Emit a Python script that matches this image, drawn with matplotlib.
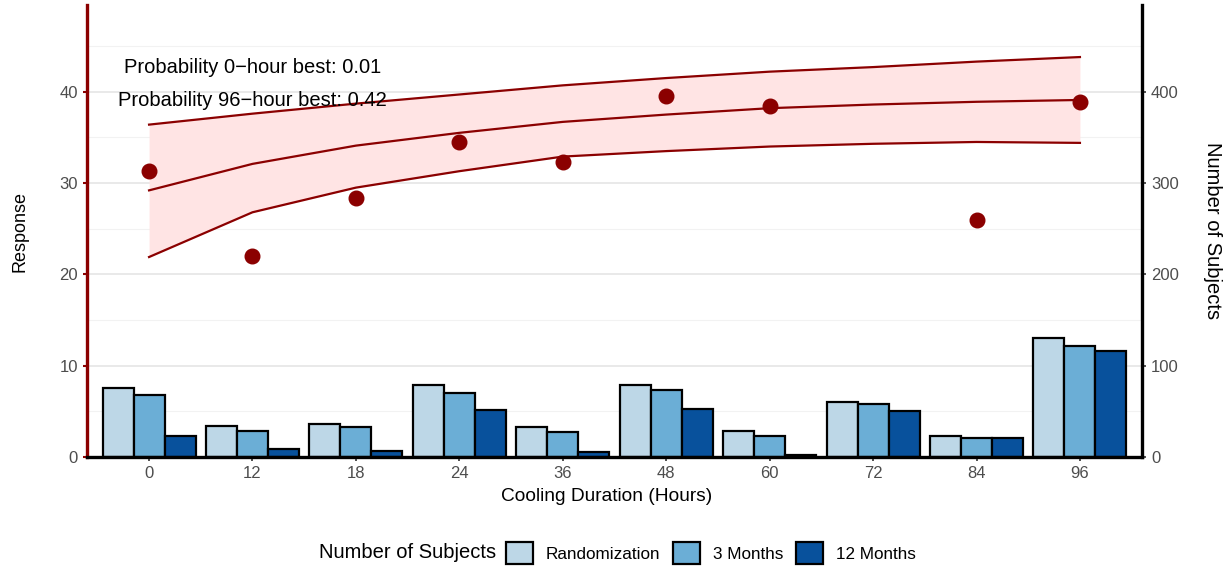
import matplotlib.pyplot as plt
import numpy as np

plt.rcParams['font.family'] = ['Liberation Sans', 'DejaVu Sans']

# dados
horas = ['0', '12', '18', '24', '36', '48', '60', '72', '84', '96']
randomizacao = [76, 34, 36, 78.5, 33, 79, 29, 60, 22.6, 130.7]
tres_meses = [68, 29, 32.5, 70, 27.7, 73, 23, 58, 20.5, 122]
doze_meses = [23, 9, 7, 51, 6, 52.6, 2, 50, 20.5, 116.5]

resposta = [31.3, 22.0, 28.4, 34.5, 32.3, 39.5, 38.4, np.nan, 25.9, 38.9]
ajuste = [29.2, 32.1, 34.1, 35.5, 36.7, 37.5, 38.2, 38.6, 38.9, 39.1]
ajuste_sup = [36.4, 37.6, 38.7, 39.7, 40.7, 41.5, 42.2, 42.7, 43.3, 43.8]
ajuste_inf = [21.9, 26.8, 29.5, 31.3, 32.9, 33.5, 34.0, 34.3, 34.5, 34.4]

grupos = ['Randomization', '3 Months', '12 Months']
cores = ['#BDD7E7', '#6BAED6', '#08519C']

fig = plt.figure(figsize=(12.29, 5.70), dpi=100)
ax = fig.add_axes([87/1229, 1 - 457/570, (1142-87)/1229, (457-5)/570])
ax2 = ax.twinx()
ax.set_zorder(ax2.get_zorder() + 1)
ax.patch.set_visible(False)

x = np.arange(len(horas))
largura = 0.3
for i, (vals, cor, nome) in enumerate(zip([randomizacao, tres_meses, doze_meses], cores, grupos)):
    ax2.bar(x + (i - 1) * largura, vals, largura, color=cor, edgecolor='black',
            linewidth=1.6, label=nome, zorder=3)

ax.fill_between(x, ajuste_inf, ajuste_sup, color='#FFE4E4', linewidth=0, zorder=1)
ax.plot(x, ajuste_sup, color='#8B0000', lw=1.6, zorder=2)
ax.plot(x, ajuste_inf, color='#8B0000', lw=1.6, zorder=2)
ax.plot(x, ajuste, color='#8B0000', lw=1.6, zorder=2)
ax.plot(x, resposta, 'o', color='#8B0000', markersize=10.5, zorder=4)

ax.text(1, 42.7, 'Probability 0\u2212hour best: 0.01', ha='center', va='center', fontsize=14.5)
ax.text(1, 39.0, 'Probability 96\u2212hour best: 0.42', ha='center', va='center', fontsize=14.5)

ax.set_xlim(-0.6, 9.6)
ax.set_ylim(0, 49.5)
ax2.set_ylim(0, 495)
ax.set_xticks(x)
ax.set_xticklabels(horas)
ax.set_yticks([0, 10, 20, 30, 40])
ax2.set_yticks([0, 100, 200, 300, 400])
ax2.set_yticks([50, 150, 250, 350, 450], minor=True)

# grade no eixo de baixo para ficar atras de tudo
ax2.grid(axis='y', which='major', color='#E5E5E5', lw=1.2, zorder=0)
ax2.grid(axis='y', which='minor', color='#F2F2F2', lw=0.8, zorder=0)
ax2.set_axisbelow(True)
ax2.tick_params(axis='y', which='minor', length=0)

for a in (ax, ax2):
    for s in a.spines.values():
        s.set_visible(False)
ax.spines['left'].set_visible(True)
ax.spines['left'].set_color('#8B0000')
ax.spines['left'].set_linewidth(2.4)
ax.spines['bottom'].set_visible(True)
ax.spines['bottom'].set_color('black')
ax.spines['bottom'].set_linewidth(2.4)
ax2.spines['right'].set_visible(True)
ax2.spines['right'].set_color('black')
ax2.spines['right'].set_linewidth(2.4)

ax.tick_params(axis='y', colors='#8B0000', labelcolor='#4D4D4D', labelsize=12, length=3, width=1.5)
ax.tick_params(axis='x', colors='#333333', labelcolor='#4D4D4D', labelsize=12, length=3, width=1.2)
ax2.tick_params(axis='y', colors='#333333', labelcolor='#4D4D4D', labelsize=12, length=3, width=1.2)

ax.set_xlabel('Cooling Duration (Hours)', fontsize=13.8)
ax.xaxis.set_label_coords((607 - 87) / 1055, -31 / 452)
ax.set_ylabel('Response', fontsize=13, labelpad=22)
ax2.set_ylabel('Number of Subjects', fontsize=14.5, rotation=270, labelpad=31)

# legenda embaixo com titulo a esquerda
fig.text(496/1229, 1 - 553/570, 'Number of Subjects', ha='right', va='center', fontsize=14.5)
h, l = ax2.get_legend_handles_labels()
fig.legend(h, l, loc='center left', bbox_to_anchor=(506/1229, 1 - 553/570), ncol=3,
           frameon=False, fontsize=12.3, handlelength=1.58, handleheight=1.58,
           handletextpad=0.75, columnspacing=0.75, borderpad=0, borderaxespad=0)

fig.savefig('out.png', dpi=100, facecolor='white')
